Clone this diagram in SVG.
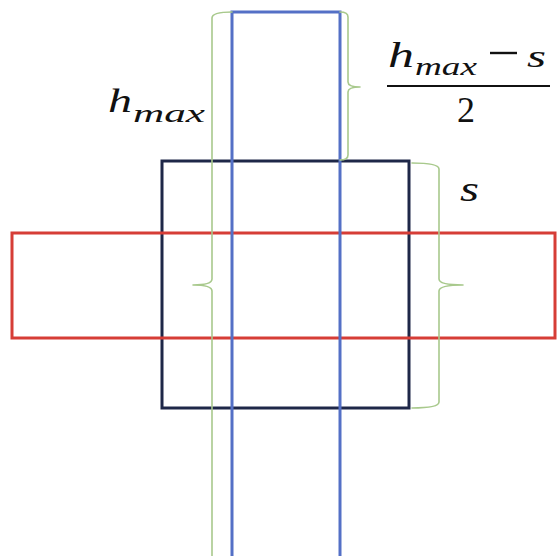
<svg xmlns="http://www.w3.org/2000/svg" width="558" height="556" viewBox="0 0 558 556">
<style>
.rect{fill:none;stroke-width:3}
.brace{fill:none;stroke:#a8c98c;stroke-width:1.6;stroke-linejoin:round;stroke-linecap:round}
.math{font-style:italic;fill:#111}
.up{fill:#111}
</style>
<rect width="558" height="556" fill="#fff"/>
<g id="square"><rect class="rect" x="162" y="161" width="247" height="247" stroke="#1e2748"/></g>
<g id="red-rect"><rect class="rect" x="12" y="233" width="543" height="105" stroke="#d63d36"/></g>
<g id="blue-rect"><rect class="rect" x="232" y="12" width="108" height="560" stroke="#5470c6"/></g>
<g id="connectors">
<path class="brace" d="M232,12 Q212,12 212,18 L212,279 Q212,285 193,285 Q212,285 212,291 L212,560"/>
<path class="brace" d="M340,12 Q348,12 348,17 L348,82 Q348,87 360,87 Q348,87 348,92 L348,155 Q348,160 340,160"/>
<path class="brace" d="M412,163 Q439,163 439,169 L439,279 Q439,285 463,285 Q439,285 439,291 L439,402 Q439,408 412,408"/>
</g>
<g font-family="Liberation Serif, DejaVu Serif, serif">
<g id="label-hmax">
<text class="math" x="108" y="112" font-size="34" textLength="24" lengthAdjust="spacingAndGlyphs">h</text>
<text class="math" x="133" y="122" font-size="25" textLength="72" lengthAdjust="spacingAndGlyphs">max</text>
</g>
<g id="label-frac">
<text class="math" x="388" y="67" font-size="35" textLength="26" lengthAdjust="spacingAndGlyphs">h</text>
<text class="math" x="415" y="75" font-size="26" textLength="62" lengthAdjust="spacingAndGlyphs">max</text>
<line x1="490" y1="53" x2="517" y2="53" stroke="#111" stroke-width="2.4"/>
<text class="math" x="527" y="67" font-size="32" textLength="19" lengthAdjust="spacingAndGlyphs">s</text>
<line x1="387" y1="86" x2="550" y2="86" stroke="#111" stroke-width="2.2"/>
<text class="up" x="466" y="122" font-size="36" text-anchor="middle">2</text>
</g>
<g id="label-s"><text class="math" x="460" y="201" font-size="36" textLength="19" lengthAdjust="spacingAndGlyphs">s</text></g>
</g>
</svg>
